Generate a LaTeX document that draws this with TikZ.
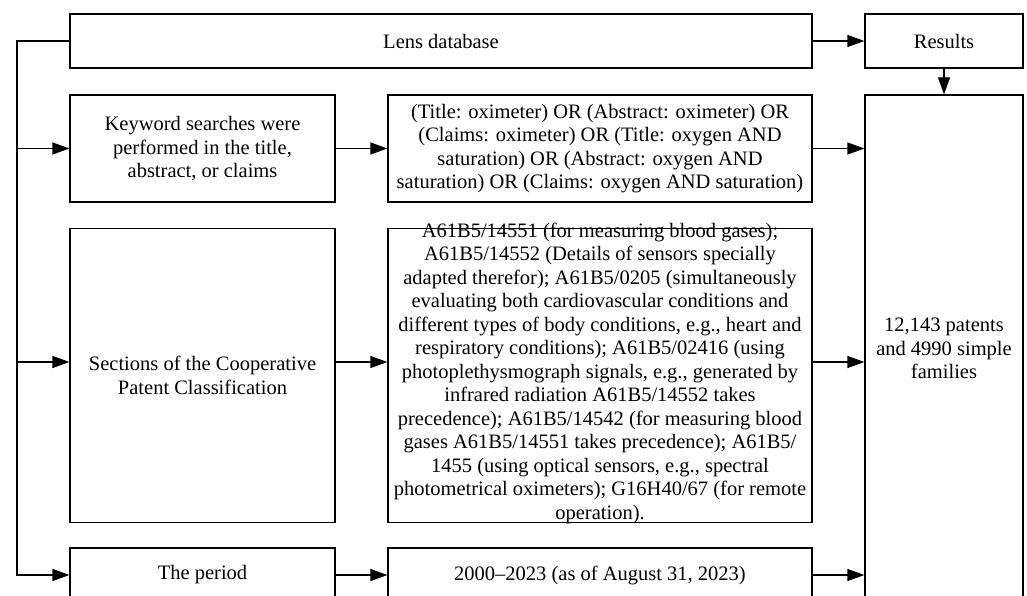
\documentclass[tikz,border=0pt]{standalone}
\usepackage{fontspec}
\setmainfont{Liberation Serif}
\usetikzlibrary{arrows.meta}
\begin{document}
\begin{tikzpicture}[x=1pt,y=-1pt,
  box/.style={draw, line width=1.2pt, inner sep=0pt, align=center,
    font=\fontsize{20.5}{23.5}\selectfont},
  txt/.style={inner sep=0pt, align=center, font=\fontsize{20.5}{23.5}\selectfont},
  arr/.style={-{Triangle[length=17pt,width=12pt]}, line width=1.2pt}]
\useasboundingbox (0,0) rectangle (1027,596);
\clip (0,0) rectangle (1027,596);

% boxes
\node[box, minimum width=742pt, minimum height=54pt] (lens) at (441,41) {Lens database};
\node[box, minimum width=158pt, minimum height=54pt] (results) at (944,41) {Results};

\node[box, minimum width=265pt, minimum height=107pt] (keyword) at (202.5,148.5)
  {Keyword searches were\\performed in the title,\\abstract, or claims};
\node[box, minimum width=424pt, minimum height=107pt] (query) at (600,148.5)
  {(Title: oximeter) OR (Abstract: oximeter) OR\\(Claims: oximeter) OR (Title: oxygen AND\\saturation) OR (Abstract: oxygen AND\\saturation) OR (Claims: oxygen AND saturation)};

\node[box, minimum width=265pt, minimum height=294pt] (cpc) at (202.5,375.5)
  {Sections of the Cooperative\\Patent Classification};
% the classification list runs right up to the frame, so the frame is a fixed box
\node[box, minimum width=424pt, minimum height=294pt] (codes) at (600,375.5) {};
\node[txt] (codestext) at ([yshift=2.5pt]codes.center)
  {A61B5/14551 (for measuring blood gases);\\
   A61B5/14552 (Details of sensors specially\\
   adapted therefor); A61B5/0205 (simultaneously\\
   evaluating both cardiovascular conditions and\\
   different types of body conditions, e.g., heart and\\
   respiratory conditions); A61B5/02416 (using\\
   photoplethysmograph signals, e.g., generated by\\
   infrared radiation A61B5/14552 takes\\
   precedence); A61B5/14542 (for measuring blood\\
   gases A61B5/14551 takes precedence); A61B5/\\
   1455 (using optical sensors, e.g., spectral\\
   photometrical oximeters); G16H40/67 (for remote\\
   operation).};

\node[box, minimum width=265pt, minimum height=54pt] (period) at (202.5,575) {The period};
\node[box, minimum width=424pt, minimum height=54pt] (dates) at (600,575)
  {2000--2023 (as of August 31, 2023)};

\node[box, minimum width=158pt, minimum height=507pt] (total) at (944,348.5)
  {12,143 patents\\and 4990 simple\\families};

% feed line on the left
\coordinate (spine) at (17,41);
\coordinate (cpcin) at ([yshift=13.5pt]cpc.west);
\coordinate (cpcout) at ([yshift=13.5pt]cpc.east);
\coordinate (codesout) at ([yshift=13.5pt]codes.east);

\draw[arr] (lens.west) -- (spine) |- (period.west);
\draw[arr] (spine |- keyword.west) -- (keyword.west);
\draw[arr] (spine |- cpcin) -- (cpcin);

% row connectors
\draw[arr] (keyword.east) -- (query.west);
\draw[arr] (cpcout) -- (cpcout -| codes.west);
\draw[arr] (period.east) -- (dates.west);

\draw[arr] (lens.east) -- (results.west);
\draw[arr] (query.east) -- (query.east -| total.west);
\draw[arr] (codesout) -- (codesout -| total.west);
\draw[arr] (dates.east) -- (dates.east -| total.west);
\draw[arr] (results.south) -- (total.north);
\end{tikzpicture}
\end{document}
